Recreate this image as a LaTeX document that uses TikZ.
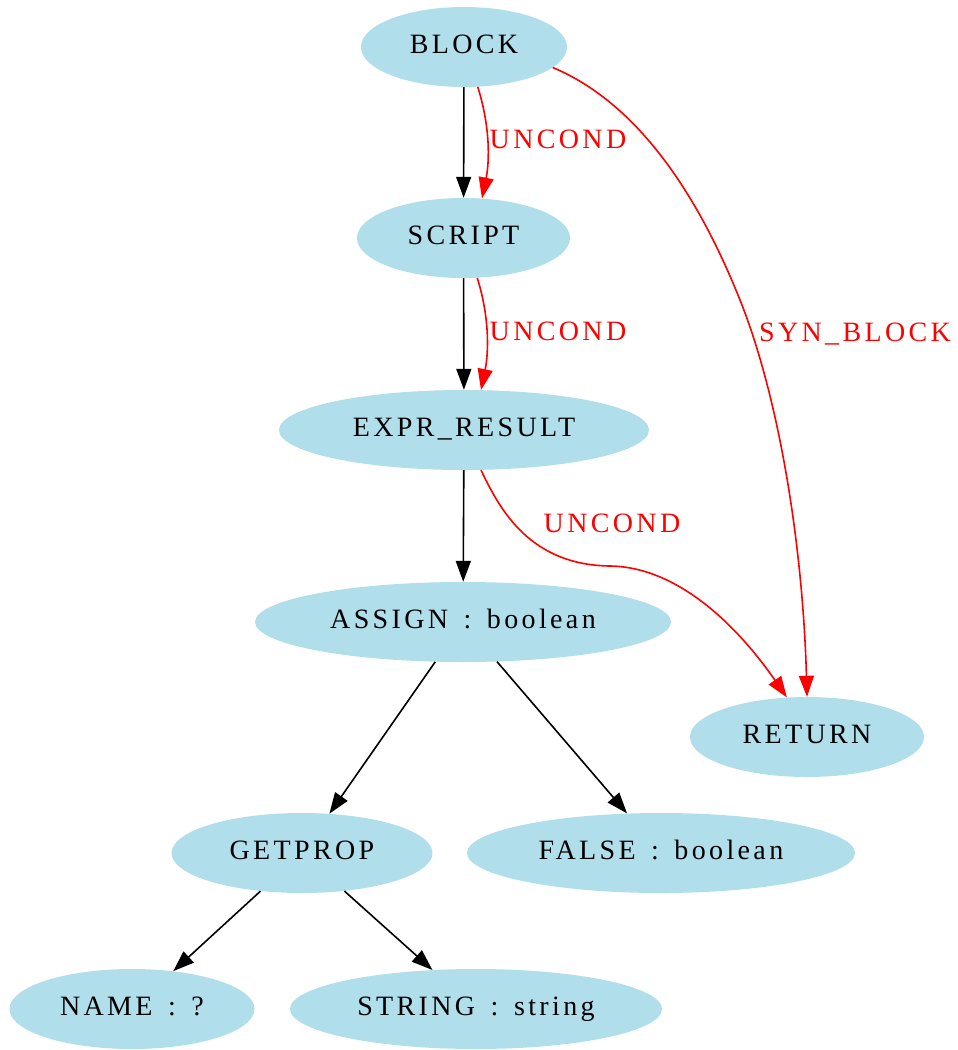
\documentclass[tikz,border=0pt]{standalone}
\usepackage{fontspec}
\setmainfont{Liberation Serif}[LetterSpace=12,WordSpace=1.5]
\usetikzlibrary{shapes.geometric,arrows.meta}
\definecolor{nodeblue}{HTML}{B0DEEB}
\begin{document}
\begin{tikzpicture}
	[x=1pt,y=-1pt,
		tnode/.style={ellipse,fill=nodeblue,inner sep=0pt,minimum height=80pt,font=\fontsize{28}{34}\selectfont,text height=20pt,text depth=8pt},
		ast edge/.style={-{Triangle[length=21pt,width=15pt]},black,line width=1.6pt},
		cfg edge/.style={ast edge,red},
		cfg label/.style={anchor=base,red,font=\fontsize{28}{34}\selectfont}]
	\useasboundingbox (0,0) rectangle (958,1050);
	\node[tnode,minimum width=206pt] (BLK) at (464,47) {BLOCK};
	\node[tnode,minimum width=213pt] (SCR) at (463.5,238) {SCRIPT};
	\node[tnode,minimum width=370pt] (EXPR) at (464,430) {EXPR\_RESULT};
	\node[tnode,minimum width=416pt] (ASN) at (463,622) {ASSIGN : boolean};
	\node[tnode,minimum width=234pt] (RET) at (807,737) {RETURN};
	\node[tnode,minimum width=261pt] (GP) at (302,853) {GETPROP};
	\node[tnode,minimum width=388pt] (FLS) at (661,853) {FALSE : boolean};
	\node[tnode,minimum width=245pt] (NM) at (132,1009) {NAME : ?};
	\node[tnode,minimum width=372pt] (STR) at (476,1009) {STRING : string};
	\coordinate (synmid) at (740,300);
	\coordinate (unmid) at (610,566);
	\draw[ast edge] (BLK) -- (SCR);
	\draw[ast edge] (SCR) -- (EXPR);
	\draw[ast edge] (EXPR) -- (ASN);
	\draw[ast edge] (ASN) -- (GP);
	\draw[ast edge] (ASN) -- (FLS);
	\draw[ast edge] (GP) -- (NM);
	\draw[ast edge] (GP) -- (STR);
	\draw[cfg edge] (BLK.-71) .. controls +(12,38) and +(8,-39) .. (SCR.65);
	\draw[cfg edge] (SCR.-71) .. controls +(12,38) and +(8,-39) .. (EXPR.67);
	\draw[cfg edge] (BLK.-13) .. controls +(88,37) and +(-40,-100) .. (synmid) .. controls +(40,100) and +(-4,-147) .. (RET.north);
	\draw[cfg edge] (EXPR.-67) .. controls +(19,40) and +(-80,-1) .. (unmid) .. controls +(70,1) and +(-47,-68) .. (RET.117);
	\node[cfg label] (u1) at (558,148) {UNCOND};
	\node[cfg label] (u2) at (558,340) {UNCOND};
	\node[cfg label] (u3) at (612,532) {UNCOND};
	\node[cfg label] (syn) at (855,341) {SYN\_BLOCK};
\end{tikzpicture}
\end{document}
